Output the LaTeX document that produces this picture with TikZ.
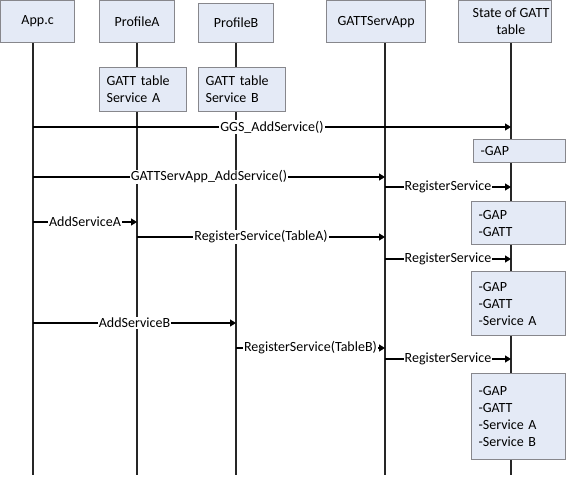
\documentclass[tikz,border=0pt]{standalone}
\usepackage{fontspec}
\setmainfont{Carlito}
\usetikzlibrary{arrows.meta}
\definecolor{boxfill}{RGB}{228,234,246}
\definecolor{boxline}{RGB}{135,135,140}
\begin{document}
\begin{tikzpicture}[x=1pt,y=-1pt,
  font=\fontsize{14}{17}\selectfont,
  box/.style={draw=boxline, fill=boxfill, line width=1.2pt, inner sep=0pt},
  hdr/.style={box, anchor=north west, minimum height=42},
  tbl/.style={box, anchor=north west, align=left, inner xsep=7pt, inner ysep=0pt},
  life/.style={line width=1.4pt, draw=black!85},
  msg/.style={line width=1.2pt, -{Triangle[length=6pt,width=7pt]}},
  lbl/.style={fill=white, inner sep=1pt}]
\useasboundingbox (0,0) rectangle (566,479);

% lifelines
\coordinate (appT) at (33,42);  \coordinate (appE) at (33,475);
\coordinate (paT) at (137,42);  \coordinate (paE) at (137,475);
\coordinate (pbT) at (236,42);  \coordinate (pbE) at (236,475);
\coordinate (gsT) at (385,42);  \coordinate (gsE) at (385,475);
\coordinate (stT) at (511,42);  \coordinate (stE) at (511,475);
\draw[life] (appT) -- (appE);
\draw[life] (paT) -- (paE);
\draw[life] (pbT) -- (pbE);
\draw[life] (gsT) -- (gsE);
\draw[life] (stT) -- (stE);

% headers
\node[hdr, minimum width=74] (app) at (0,0) {App.c};
\node[hdr, minimum width=75] (pa) at (99,0) {ProfileA};
\node[hdr, minimum width=75, minimum height=39] (pb) at (198,3) {ProfileB};
\node[hdr, minimum width=99] (gs) at (326,0) {GATTServApp};
\node[hdr, minimum width=93] (st) at (458,0) {};
\node[align=center, inner sep=0pt] (stt) at (511,21) {State of GATT\\table};

% GATT tables of profiles
\node[tbl, text width=73, minimum height=44] (ta) at (99,67) {GATT table\\Service A};
\node[tbl, text width=73, minimum height=44] (tb) at (198,67) {GATT table\\Service B};

% messages
\coordinate (m1s) at (33,127);  \coordinate (m1e) at (511,127);
\draw[msg] (m1s) -- node[lbl] (l1) {GGS\_AddService()} (m1e);

\coordinate (m2s) at (33,177);  \coordinate (m2e) at (385,177);
\draw[msg] (m2s) -- node[lbl] (l2) {GATTServApp\_AddService()} (m2e);

\coordinate (m3s) at (385,187); \coordinate (m3e) at (511,187);
\draw[msg] (m3s) -- node[lbl] (l3) {RegisterService} (m3e);

\coordinate (m4s) at (33,222);  \coordinate (m4e) at (137,222);
\draw[msg] (m4s) -- node[lbl] (l4) {AddServiceA} (m4e);

\coordinate (m5s) at (137,237); \coordinate (m5e) at (385,237);
\draw[msg] (m5s) -- node[lbl] (l5) {RegisterService(TableA)} (m5e);

\coordinate (m6s) at (385,259); \coordinate (m6e) at (511,259);
\draw[msg] (m6s) -- node[lbl] (l6) {RegisterService} (m6e);

\coordinate (m7s) at (33,323);  \coordinate (m7e) at (236,323);
\draw[msg] (m7s) -- node[lbl] (l7) {AddServiceB} (m7e);

\coordinate (m8s) at (236,348); \coordinate (m8e) at (385,348);
\draw[msg] (m8s) -- node[lbl] (l8) {RegisterService(TableB)} (m8e);

\coordinate (m9s) at (385,359); \coordinate (m9e) at (511,359);
\draw[msg] (m9s) -- node[lbl] (l9) {RegisterService} (m9e);

% state of GATT table
\node[tbl, text width=78, minimum height=23] (s1) at (473,139) {-GAP};
\node[tbl, text width=80, minimum height=43] (s2) at (471,201) {-GAP\\-GATT};
\node[tbl, text width=80, minimum height=64] (s3) at (471,271) {-GAP\\-GATT\\-Service A};
\node[tbl, text width=80, minimum height=86] (s4) at (471,373) {-GAP\\-GATT\\-Service A\\-Service B};
\end{tikzpicture}
\end{document}
